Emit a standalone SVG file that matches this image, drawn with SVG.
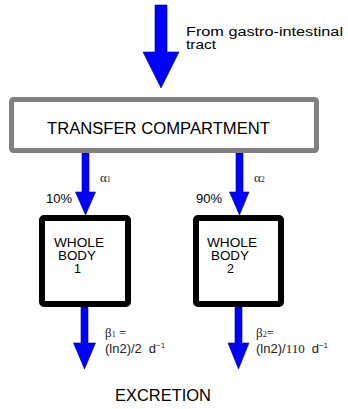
<svg xmlns="http://www.w3.org/2000/svg" width="348" height="409" viewBox="0 0 348 409">
<style>
.arrow{fill:#0000ff;stroke:#000080;stroke-width:0.6}
.sans{font-family:"Liberation Sans",Arial,sans-serif;fill:#000}
.serif{font-family:"Liberation Serif","Times New Roman",serif;fill:#222}
.lbl{font-family:"Liberation Sans",Arial,sans-serif;fill:#222;font-size:13px}
.body{stroke:#000;stroke-width:6;fill:#fff}
</style>
<rect width="348" height="409" fill="#fff"/>
<g id="connectors">
<polygon class="arrow" points="155,5 167,5 167,52 179,52 161,88 143,52 155,52"/>
<polygon class="arrow" points="82,153 89,153 89,192 95.5,192 85.5,215 75.5,192 82,192"/>
<polygon class="arrow" points="236,153 243,153 243,192 249,192 239.5,215 229.5,192 236,192"/>
<polygon class="arrow" points="81,307 88,307 88,343 95.5,343 84.5,369 73.5,343 81,343"/>
<polygon class="arrow" points="235,307 242,307 242,343 249,343 238.5,369 228,343 235,343"/>
</g>
<g id="source-label">
<text class="sans" font-size="12" x="186" y="36" textLength="157" lengthAdjust="spacingAndGlyphs">From gastro-intestinal</text>
<text class="sans" font-size="12" x="186" y="48.5" textLength="30" lengthAdjust="spacingAndGlyphs">tract</text>
</g>
<g id="transfer-compartment">
<rect x="11.5" y="99.5" width="305" height="51" rx="2" fill="#fff" stroke="#808080" stroke-width="5"/>
<text class="sans" font-size="16" x="47" y="134" textLength="223" lengthAdjust="spacingAndGlyphs">TRANSFER COMPARTMENT</text>
</g>
<g id="labels-alpha">
<text class="serif" font-size="13" x="100" y="182">α<tspan font-size="8">1</tspan></text>
<text class="serif" font-size="13" x="254" y="182">α<tspan font-size="8">2</tspan></text>
<text class="sans" font-size="13" x="46" y="203">10%</text>
<text class="sans" font-size="13" x="196" y="203">90%</text>
</g>
<g id="whole-body-1">
<rect class="body" x="42" y="218" width="86" height="86" rx="2"/>
<text class="sans" font-size="12.5" x="54" y="247" textLength="50" lengthAdjust="spacingAndGlyphs">WHOLE</text>
<text class="sans" font-size="12.5" x="58" y="260" textLength="38" lengthAdjust="spacingAndGlyphs">BODY</text>
<text class="sans" font-size="12.5" text-anchor="middle" x="77.5" y="273">1</text>
</g>
<g id="whole-body-2">
<rect class="body" x="196" y="218" width="85" height="86" rx="2"/>
<text class="sans" font-size="12.5" x="207" y="247" textLength="50" lengthAdjust="spacingAndGlyphs">WHOLE</text>
<text class="sans" font-size="12.5" x="211" y="260" textLength="38" lengthAdjust="spacingAndGlyphs">BODY</text>
<text class="sans" font-size="12.5" text-anchor="middle" x="230.5" y="273">2</text>
</g>
<g id="labels-beta">
<text class="serif" font-size="13" x="105" y="337">β<tspan font-size="8">1</tspan> =</text>
<text class="lbl" x="105" y="353">(ln2)/2<tspan dx="7">d</tspan><tspan font-size="8" dy="-5">−1</tspan></text>
<text class="serif" font-size="13" x="256" y="337">β<tspan font-size="8">2</tspan>=</text>
<text class="lbl" x="256" y="353">(ln2)/<tspan style="font-family:'Liberation Serif',serif" font-size="13">110</tspan><tspan dx="7">d</tspan><tspan font-size="8" dy="-5">−1</tspan></text>
</g>
<g id="excretion">
<text class="sans" font-size="16" x="115" y="401" textLength="96" lengthAdjust="spacingAndGlyphs">EXCRETION</text>
</g>
</svg>
